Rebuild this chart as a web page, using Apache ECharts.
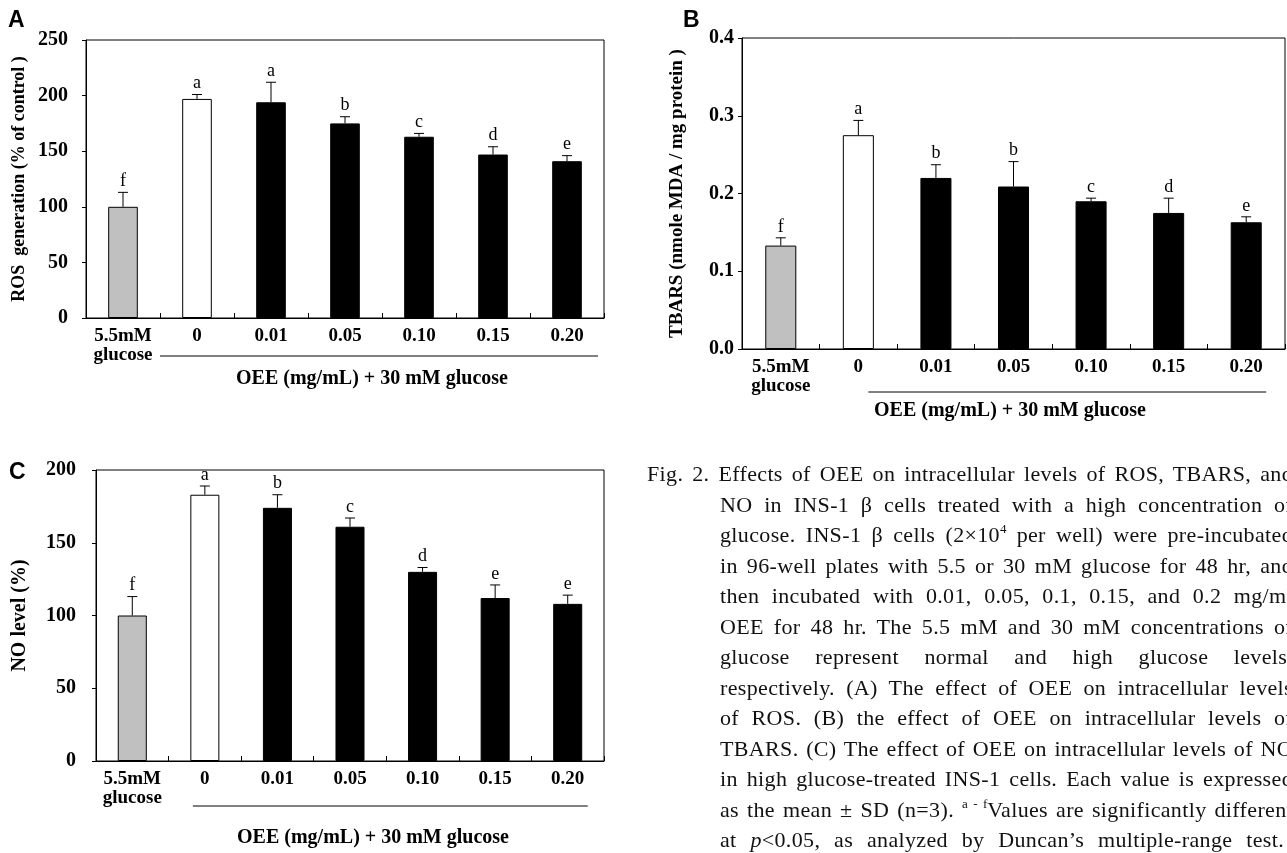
<!DOCTYPE html>
<html><head><meta charset="utf-8">
<script src="https://cdn.jsdelivr.net/npm/echarts@6/dist/echarts.min.js"></script>
<style>
html,body{margin:0;padding:0;background:#fff;overflow:hidden;width:1287px;height:853px;}
#chart{position:absolute;left:0;top:0;width:1287px;height:853px;}
#caption{position:absolute;left:647px;top:459px;width:646px;font-family:'Liberation Serif',serif;font-size:22px;letter-spacing:0.35px;color:#111;}
#caption .ln{height:30.5px;line-height:30.5px;white-space:nowrap;text-align:justify;text-align-last:justify;}
#caption .ind{margin-left:73px;}
#caption .last{margin-right:9px;}
#caption sup{font-size:13px;line-height:0;vertical-align:9px;letter-spacing:0;}
</style></head>
<body>
<div id="chart"></div>
<div id="caption">
<div class="ln">Fig. 2. Effects of OEE on intracellular levels of ROS, TBARS, and</div>
<div class="ln ind">NO in INS-1 β cells treated with a high concentration of</div>
<div class="ln ind">glucose. INS-1 β cells (2×10<sup>4</sup> per well) were pre-incubated</div>
<div class="ln ind">in 96-well plates with 5.5 or 30 mM glucose for 48 hr, and</div>
<div class="ln ind">then incubated with 0.01, 0.05, 0.1, 0.15, and 0.2 mg/ml</div>
<div class="ln ind">OEE for 48 hr. The 5.5 mM and 30 mM concentrations of</div>
<div class="ln ind">glucose represent normal and high glucose levels,</div>
<div class="ln ind">respectively. (A) The effect of OEE on intracellular levels</div>
<div class="ln ind">of ROS. (B) the effect of OEE on intracellular levels of</div>
<div class="ln ind">TBARS. (C) The effect of OEE on intracellular levels of NO</div>
<div class="ln ind">in high glucose-treated INS-1 cells. Each value is expressed</div>
<div class="ln ind">as the mean ± SD (n=3). <sup>a - f</sup>Values are significantly different</div>
<div class="ln ind last">at <i>p</i>&lt;0.05, as analyzed by Duncan’s multiple-range test.</div>
</div>
<script>
// ---- data ----
const categories = ['5.5mM\nglucose', '0', '0.01', '0.05', '0.10', '0.15', '0.20'];

const rosMean = [100, 197, 194, 175, 163, 147, 141];
const rosSD = [13, 4, 18, 6, 3, 7, 5];
const rosLetters = ['f', 'a', 'a', 'b', 'c', 'd', 'e'];

const tbarsMean = [0.133, 0.275, 0.220, 0.209, 0.190, 0.175, 0.163];
const tbarsSD = [0.010, 0.019, 0.017, 0.032, 0.004, 0.019, 0.007];
const tbarsLetters = ['f', 'a', 'b', 'b', 'c', 'd', 'e'];

const noMean = [100, 183, 174, 161, 130, 112, 108];
const noSD = [13, 6, 9, 6, 3, 9, 6];
const noLetters = ['f', 'a', 'b', 'c', 'd', 'e', 'e'];

const rosTicks = {min: 0, max: 250, interval: 50};
const tbarsTicks = {min: 0, max: 0.4, interval: 0.1};
const noTicks = {min: 0, max: 200, interval: 50};

const xTitle = 'OEE (mg/mL) + 30 mM glucose';
const yTitles = ['ROS  generation (% of control )', 'TBARS (nmole MDA / mg protein )', 'NO level (%)'];
const panelLetters = ['A', 'B', 'C'];

// ---- styles ----
const barColors = ['#c0c0c0', '#ffffff', '#000000', '#000000', '#000000', '#000000', '#000000'];
const SERIF = '"Liberation Serif", "Times New Roman", serif';
const SANS = '"Liberation Sans", Arial, sans-serif';

const panels = [
  {grid: {left: 86, top: 40, width: 518, height: 278}, mean: rosMean, sd: rosSD, letters: rosLetters, ticks: rosTicks, fmt: v => String(v), labelMargin: 18},
  {grid: {left: 742, top: 38, width: 543, height: 311}, mean: tbarsMean, sd: tbarsSD, letters: tbarsLetters, ticks: tbarsTicks, fmt: v => v.toFixed(1), labelMargin: 8},
  {grid: {left: 96, top: 470, width: 508, height: 291}, mean: noMean, sd: noSD, letters: noLetters, ticks: noTicks, fmt: v => String(v), labelMargin: 20}
];

function makeRender(letters) {
  return function (params, api) {
    const i = api.value(0), m = api.value(1), s = api.value(2);
    const p0 = api.coord([i, m]);
    const p1 = api.coord([i, m + s]);
    const cap = 5;
    return {
      type: 'group',
      children: [
        {type: 'line', shape: {x1: p0[0], y1: p0[1], x2: p1[0], y2: p1[1]}, style: {stroke: '#000', lineWidth: 1}},
        {type: 'line', shape: {x1: p1[0] - cap, y1: p1[1], x2: p1[0] + cap, y2: p1[1]}, style: {stroke: '#000', lineWidth: 1}},
        {type: 'text', x: p1[0], y: p1[1] - 2,
          style: {text: letters[params.dataIndex], fill: '#000', font: '18px ' + SERIF, align: 'center', verticalAlign: 'bottom'}}
      ]
    };
  };
}

const option = {
  backgroundColor: '#fff',
  animation: false,
  grid: panels.map(p => Object.assign({show: true, borderColor: '#000', borderWidth: 1, backgroundColor: 'transparent'}, p.grid)),
  xAxis: panels.map((p, k) => ({
    type: 'category', gridIndex: k, data: categories,
    axisLine: {lineStyle: {color: '#000', width: 1}},
    axisTick: {show: true, inside: true, length: 5, lineStyle: {color: '#000'}},
    axisLabel: {interval: 0, color: '#000', fontFamily: SERIF, fontWeight: 'bold', fontSize: 19, lineHeight: 19, margin: 9},
    splitLine: {show: false}
  })),
  yAxis: panels.map((p, k) => ({
    type: 'value', gridIndex: k, min: p.ticks.min, max: p.ticks.max, interval: p.ticks.interval,
    axisLine: {show: true, lineStyle: {color: '#000', width: 1}},
    axisTick: {show: true, length: 4, lineStyle: {color: '#000'}},
    splitLine: {show: false},
    axisLabel: {color: '#000', fontFamily: SERIF, fontWeight: 'bold', fontSize: 20, margin: p.labelMargin, formatter: p.fmt}
  })),
  series: []
};

panels.forEach((p, k) => {
  option.series.push({
    type: 'bar', xAxisIndex: k, yAxisIndex: k, barWidth: '40%',
    data: p.mean.map((v, i) => ({value: v, itemStyle: {color: barColors[i], borderColor: '#000', borderWidth: 1}})),
    z: 2
  });
  option.series.push({
    type: 'custom', xAxisIndex: k, yAxisIndex: k, clip: false, z: 3,
    data: p.mean.map((v, i) => [i, v, p.sd[i]]),
    renderItem: makeRender(p.letters)
  });
});

const chart = echarts.init(document.getElementById('chart'), null, {renderer: 'canvas'});
chart.setOption(option);

// decorations positioned relative to the axes
const gfx = [];
const titleFont = 'bold 20px ' + SERIF;
const letterPos = [[8, 9], [683, 9], [9, 461]];
panelLetters.forEach((L, k) => {
  gfx.push({type: 'text', x: letterPos[k][0], y: letterPos[k][1], style: {text: L, font: 'bold 23px ' + SANS, fill: '#000'}});
});

const cfg = [
  {yTitleX: 19, yTitleFont: 'bold 18px ' + SERIF, lineY: 356, lineStart: (c, w) => c - w / 2, lineEnd: (c, w) => c + w / 2 - 6, xTitleY: 379, xTitleCx: 372},
  {yTitleX: 677, yTitleFont: 'bold 19px ' + SERIF, lineY: 392, lineStart: (c, w) => c + 10, lineEnd: (c, w) => c + 20, xTitleY: 411, xTitleCx: 1010},
  {yTitleX: 20, yTitleFont: 'bold 20px ' + SERIF, lineY: 806, lineStart: (c, w) => c - 12, lineEnd: (c, w) => c + 20, xTitleY: 838, xTitleCx: 373}
];

panels.forEach((p, k) => {
  const c = cfg[k];
  const g = p.grid;
  const x1 = chart.convertToPixel({xAxisIndex: k}, 1);
  const x6 = chart.convertToPixel({xAxisIndex: k}, 6);
  const w = g.width / categories.length;
  gfx.push({type: 'text', x: c.yTitleX, y: g.top + g.height / 2, rotation: Math.PI / 2,
    style: {text: yTitles[k], font: c.yTitleFont, fill: '#000', align: 'center', verticalAlign: 'middle'}});
  const ls = c.lineStart(x1, w), le = c.lineEnd(x6, w);
  gfx.push({type: 'line', shape: {x1: ls, y1: c.lineY, x2: le, y2: c.lineY}, style: {stroke: '#000', lineWidth: 1}});
  gfx.push({type: 'text', x: c.xTitleCx, y: c.xTitleY, style: {text: xTitle, font: titleFont, fill: '#000', align: 'center', verticalAlign: 'middle'}});
});

chart.setOption({graphic: {elements: gfx}});
</script>
</body></html>
